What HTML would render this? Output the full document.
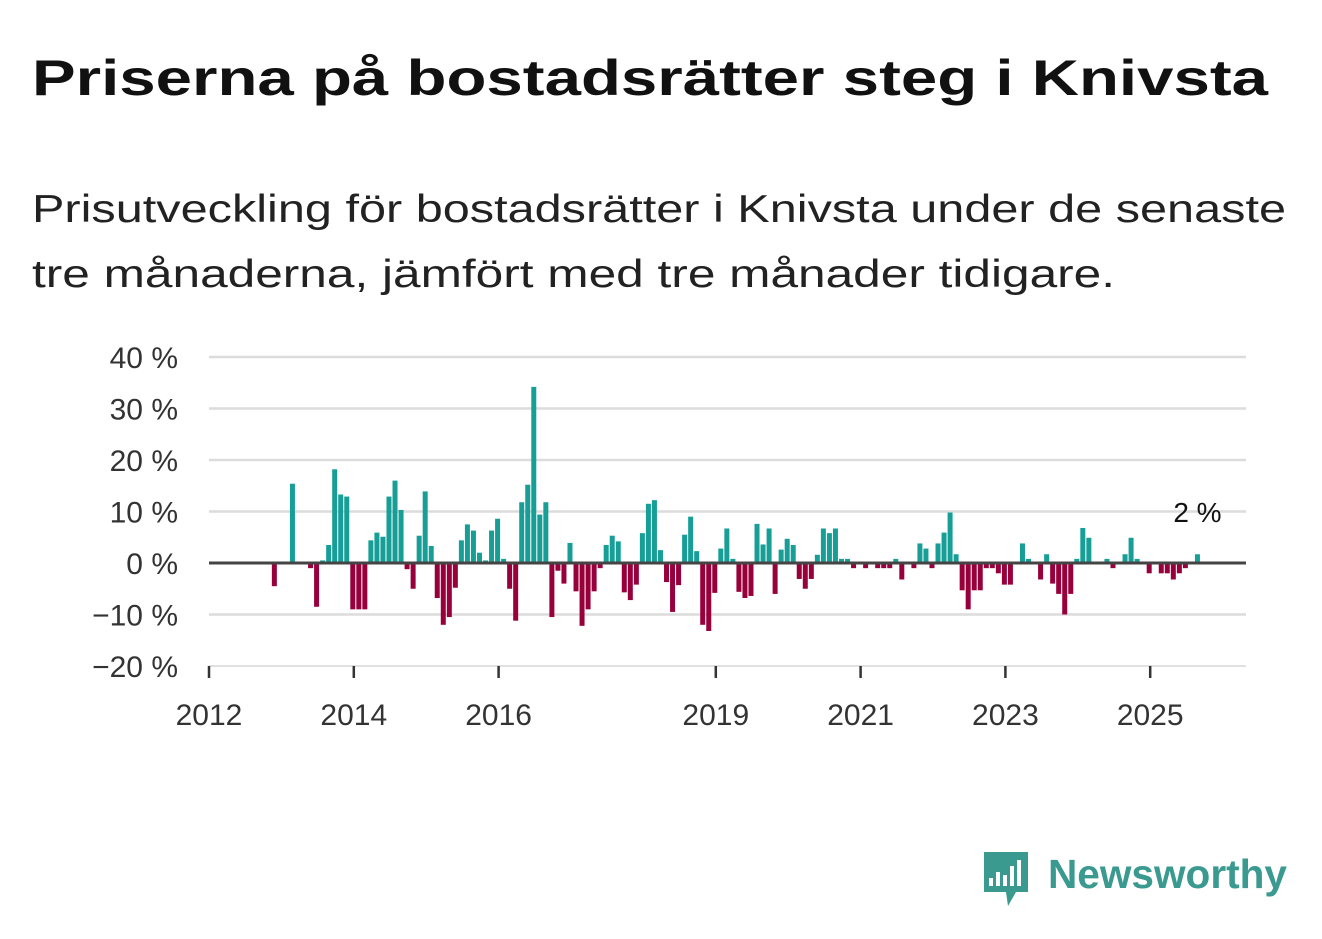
<!DOCTYPE html>
<html><head><meta charset="utf-8"><style>
body{margin:0;background:#fff;}
svg{display:block;font-family:"Liberation Sans",sans-serif;}
</style></head><body>
<svg width="1322" height="939" viewBox="0 0 1322 939">
<text x="32" y="95" font-size="50" font-weight="bold" fill="#111" textLength="1236" lengthAdjust="spacingAndGlyphs">Priserna på bostadsrätter steg i Knivsta</text>
<text x="32" y="222" font-size="39" fill="#222" textLength="1254" lengthAdjust="spacingAndGlyphs">Prisutveckling för bostadsrätter i Knivsta under de senaste</text>
<text x="32" y="287" font-size="39" fill="#222" textLength="1083" lengthAdjust="spacingAndGlyphs">tre månaderna, jämfört med tre månader tidigare.</text>
<g id="plot"></g>
<g>
<path d="M984 852 h44 v40 h-12 l-8 14 l-2 -14 h-22 z" fill="#3a9a8f"/>
<rect x="989" y="878" width="4" height="8" fill="#fff"/><rect x="996" y="872" width="4" height="14" fill="#fff"/><rect x="1003" y="875" width="4" height="11" fill="#fff"/><rect x="1010" y="866" width="4" height="20" fill="#fff"/><rect x="1017" y="860" width="4" height="26" fill="#fff"/>
<text x="1048" y="888" font-size="41" font-weight="bold" fill="#3a9a8f" textLength="239" lengthAdjust="spacingAndGlyphs">Newsworthy</text>
</g>
</svg>
<script>
const yTicks=[40,30,20,10,0,-10,-20];
const yTickLabels=["40 %","30 %","20 %","10 %","0 %","\u221210 %","\u221220 %"];
const xTickYears=[2012,2014,2016,2019,2021,2023,2025];
const startYear=2012;
// monthly values starting Jan 2012
const values=[0,0,0,0,0,0,0,0,0,0,-4.5,0,0,15.4,0,0,-1,-8.5,0.5,3.5,
18.2,13.3,12.9,-9,-9,-9,4.4,5.9,5.1,12.9,16,10.3,-1.2,-5,5.3,13.9,3.3,-6.8,-12,-10.5,
-4.8,4.4,7.5,6.3,2,0.5,6.3,8.6,0.8,-5,-11.2,11.8,15.2,34.2,9.4,11.8,-10.5,-1.5,-4,3.9,
-5.5,-12.2,-9,-5.5,-1,3.5,5.3,4.2,-5.7,-7.2,-4.2,5.8,11.5,12.2,2.5,-3.7,-9.5,-4.3,5.5,9,
2.3,-12,-13.2,-5.8,2.8,6.7,0.8,-5.6,-6.8,-6.4,7.6,3.6,6.7,-6,2.6,4.7,3.5,-3.1,-5,-3.1,
1.6,6.7,5.8,6.7,0.8,0.8,-1,0,-1,0,-1,-1,-1,0.8,-3.2,0,-1,3.8,2.8,-1,
3.8,5.9,9.8,1.7,-5.3,-9,-5.3,-5.3,-1,-1,-2,-4.2,-4.2,0,3.8,0.8,0,-3.2,1.7,-4,
-6,-10,-6,0.8,6.8,4.9,0,0,0.8,-1,0,1.7,4.9,0.8,0,-2,0,-2,-2,-3.2,
-2,-1,0,1.7];
const lastLabel="2 %";
const NS="http://www.w3.org/2000/svg";
const g=document.getElementById('plot');
const x0=209,pxYear=72.4,left=209,right=1246;
const yZero=563,pxPct=5.15;
const X=m=>x0+m*pxYear/12;
const Y=v=>yZero-v*pxPct;
function mk(t,a){const e=document.createElementNS(NS,t);for(const k in a)e.setAttribute(k,a[k]);g.appendChild(e);return e;}
yTicks.forEach((v,i)=>{
 if(v!==0&&v!==-20){const l=mk('line',{x1:left,x2:right,y1:Y(v),y2:Y(v),stroke:'#dcdcdc','stroke-width':2.5});
 
 }
 const t=mk('text',{x:178,y:Y(v)+11,'font-size':30,'text-anchor':'end',fill:'#333'});
 t.textContent=yTickLabels[i];
 
 
});
const ax=mk('line',{x1:left,x2:right,y1:Y(-20),y2:Y(-20),stroke:'#e0e0e0','stroke-width':2});


xTickYears.forEach(yr=>{
 const x=X((yr-startYear)*12);
 const tk=mk('line',{x1:x,x2:x,y1:Y(-20),y2:Y(-20)+12,stroke:'#333','stroke-width':2.5});
 
 
 const t=mk('text',{x:x,y:725,'font-size':30,'text-anchor':'middle',fill:'#333'});
 t.textContent=yr;
 
 
});
values.forEach((v,i)=>{
 if(v===0)return;
 const xc=X(i+0.5)+2;
 const r=mk('rect',{x:xc-2.5,width:5,y:Math.min(Y(v),yZero),height:Math.abs(Y(v)-yZero),fill:v>0?'#179f97':'#98003c'});
 
 
});
const zl=mk('line',{x1:left,x2:right,y1:yZero,y2:yZero,stroke:'#444','stroke-width':3});


const li=values.length-1;
const lab=mk('text',{x:X(li+0.5)+2,y:Y(values[li])-32,'font-size':28,'text-anchor':'middle',fill:'#111'});
lab.textContent=lastLabel;


</script>
</body></html>
